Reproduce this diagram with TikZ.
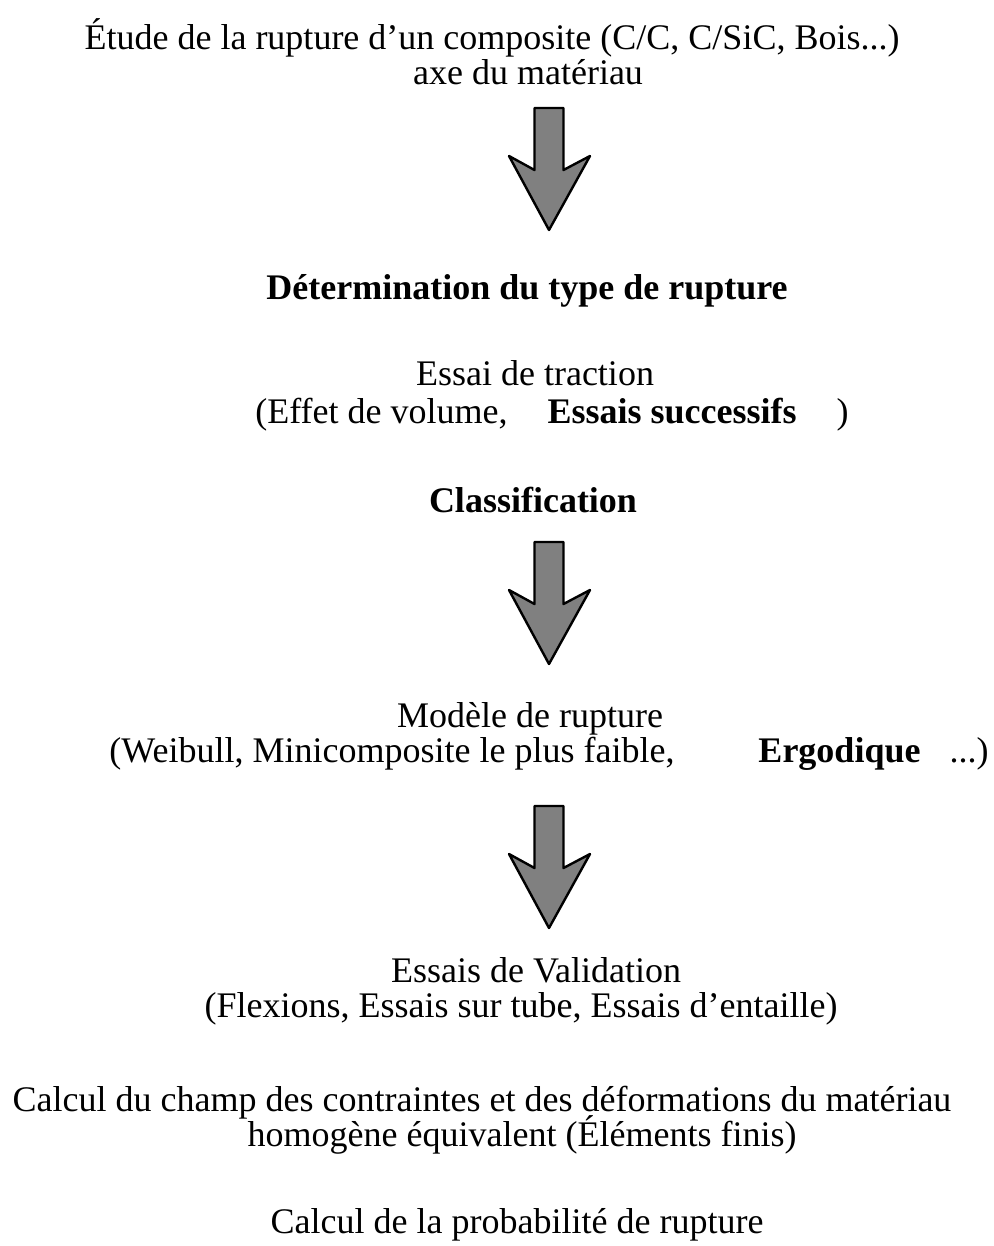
\documentclass[tikz,border=0pt]{standalone}
\usepackage{fontspec}
\setmainfont{Liberation Serif}
\usepackage{tikz}
\usetikzlibrary{positioning}

\begin{document}
\begin{tikzpicture}[
    x=1pt, y=-1pt,
    txt/.style={anchor=base, inner sep=0pt, font=\fontsize{36}{40}\selectfont},
    arrowbody/.style={draw=black, line width=2.4pt, line join=round, fill=gray},
    bigarrow/.pic={\path[arrowbody] (-14.5,0) -- (14.5,0) -- (14.5,62) -- (41,48)
        -- (0,122) -- (-40,48) -- (-14.5,62) -- cycle;}
]
\useasboundingbox (0,0) rectangle (993,1246);

% Material
\node[txt] (etude) at (492,50) {Étude de la rupture d’un composite (C/C, C/SiC, Bois...)};
\node[txt] (axe) at (528,85) {axe du matériau};
\pic at (549,108) {bigarrow};

% Type of rupture
\node[txt] (type) at (527,300) {\textbf{Détermination du type de rupture}};
\node[txt] (traction) at (535,385) {Essai de traction};
\node[txt] (effet) at (552,423) {(Effet de volume,\hspace{40pt}\textbf{Essais successifs}\hspace{40pt})};
\node[txt] (classif) at (533,512) {\textbf{Classification}};
\pic at (549,542) {bigarrow};

% Model
\node[txt] (modele) at (530,727) {Modèle de rupture};
\node[txt] (weibull) at (549,762) {(Weibull, Minicomposite le plus faible,\hspace{84pt}\textbf{Ergodique}\hspace{29pt}...)};
\pic at (549,806) {bigarrow};

% Validation and computation
\node[txt] (valid) at (536,982) {Essais de Validation};
\node[txt] (flexions) at (521,1017) {(Flexions, Essais sur tube, Essais d’entaille)};
\node[txt] (champ) at (482,1111) {Calcul du champ des contraintes et des déformations du matériau};
\node[txt] (homog) at (522,1146) {homogène équivalent (Éléments finis)};
\node[txt] (proba) at (517,1233) {Calcul de la probabilité de rupture};

\end{tikzpicture}
\end{document}
